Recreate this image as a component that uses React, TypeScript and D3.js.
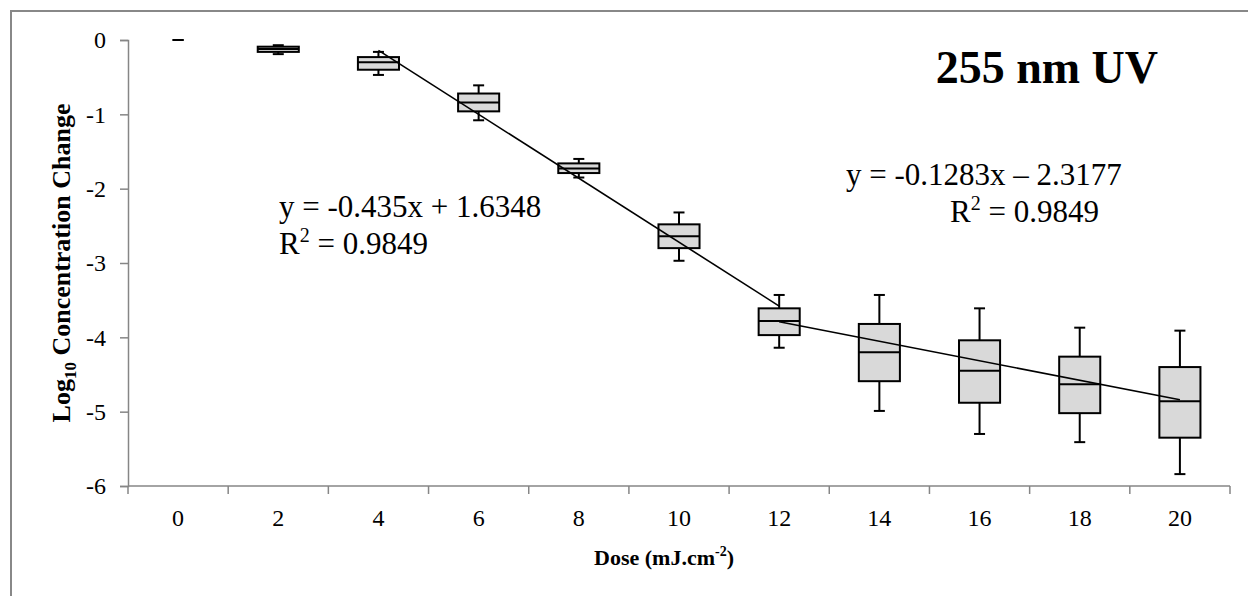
import React, { useEffect, useRef } from "react";
import * as d3 from "d3";

// dose categories (mJ.cm-2)
const doses = [0, 2, 4, 6, 8, 10, 12, 14, 16, 18, 20];
// box plot stats per dose (log10 concentration change)
const whiskerHigh = [0, -0.07, -0.16, -0.61, -1.6, -2.32, -3.43, -3.43, -3.61, -3.87, -3.91];
const q3 = [0, -0.09, -0.23, -0.72, -1.66, -2.48, -3.61, -3.82, -4.04, -4.26, -4.4];
const medians = [0, -0.12, -0.3, -0.84, -1.73, -2.64, -3.78, -4.2, -4.45, -4.63, -4.86];
const q1 = [0, -0.16, -0.4, -0.96, -1.79, -2.8, -3.97, -4.59, -4.88, -5.02, -5.35];
const whiskerLow = [0, -0.19, -0.47, -1.08, -1.85, -2.97, -4.14, -4.99, -5.3, -5.41, -5.84];

const yTicks = [0, -1, -2, -3, -4, -5, -6];

// fitted lines
const fit1Dose = [4, 12];
const fit1Val = [-0.14, -3.58];
const fit2Dose = [12, 20];
const fit2Val = [-3.79, -4.84];

const W = 1248;
const H = 596;
const serif = "'Liberation Serif', 'Times New Roman', serif";
const axisColor = "#868686";

export default function App() {
  const ref = useRef<SVGSVGElement | null>(null);

  useEffect(() => {
    document.body.style.margin = "0";
    const svg = d3.select(ref.current);
    svg.selectAll("*").remove();

    const x = d3.scaleBand<number>().domain(doses).range([128, 1230]).padding(0);
    const y = d3.scaleLinear().domain([-6, 0]).range([486, 40]);
    const bw = x.bandwidth();
    const boxW = bw * 0.41;
    const capW = 11;
    const cx = (d: number) => (x(d) as number) + bw / 2;

    // outer frame
    svg.append("rect").attr("x", 11).attr("y", 11).attr("width", W + 20).attr("height", H + 20)
      .attr("fill", "none").attr("stroke", "#888").attr("stroke-width", 2);

    // y axis
    const yAxis = d3.axisLeft(y).tickValues(yTicks).tickSize(8).tickPadding(14).tickFormat(d3.format("d"));
    const gy = svg.append("g").attr("transform", "translate(128,0)").call(yAxis);
    gy.select(".domain").attr("stroke", axisColor).attr("stroke-width", 1.5);
    gy.selectAll(".tick line").attr("stroke", axisColor).attr("stroke-width", 1.5);
    gy.selectAll(".tick text").attr("font-family", serif).attr("font-size", 24).attr("fill", "#000")
      .text((d: any) => String(d));

    // x axis: ticks at band edges, labels centered
    const edges = doses.map((d) => x(d) as number).concat([x.range()[1]]);
    svg.append("line").attr("x1", 128).attr("x2", 1230).attr("y1", y(-6)).attr("y2", y(-6))
      .attr("stroke", axisColor).attr("stroke-width", 1.5);
    svg.selectAll(".xtick").data(edges).join("line").attr("class", "xtick")
      .attr("x1", (d) => d).attr("x2", (d) => d).attr("y1", y(-6)).attr("y2", y(-6) + 8)
      .attr("stroke", axisColor).attr("stroke-width", 1.5);
    svg.selectAll(".xlabel").data(doses).join("text").attr("class", "xlabel")
      .attr("x", (d) => cx(d)).attr("y", 526).attr("text-anchor", "middle")
      .attr("font-family", serif).attr("font-size", 24).text((d) => d);

    // boxes
    const boxes = doses.map((d, i) => ({
      d, hi: whiskerHigh[i], q3: q3[i], med: medians[i], q1: q1[i], lo: whiskerLow[i],
    }));
    const g = svg.append("g");
    boxes.forEach((b) => {
      const c = cx(b.d);
      g.append("line").attr("x1", c).attr("x2", c).attr("y1", y(b.hi)).attr("y2", y(b.q3))
        .attr("stroke", "#000").attr("stroke-width", 2);
      g.append("line").attr("x1", c).attr("x2", c).attr("y1", y(b.q1)).attr("y2", y(b.lo))
        .attr("stroke", "#000").attr("stroke-width", 2);
      g.append("line").attr("x1", c - capW / 2).attr("x2", c + capW / 2).attr("y1", y(b.hi)).attr("y2", y(b.hi))
        .attr("stroke", "#000").attr("stroke-width", 2);
      g.append("line").attr("x1", c - capW / 2).attr("x2", c + capW / 2).attr("y1", y(b.lo)).attr("y2", y(b.lo))
        .attr("stroke", "#000").attr("stroke-width", 2);
      if (b.q3 > b.q1) {
        g.append("rect").attr("x", c - boxW / 2).attr("y", y(b.q3)).attr("width", boxW)
          .attr("height", y(b.q1) - y(b.q3)).attr("fill", "#d9d9d9").attr("stroke", "#000").attr("stroke-width", 2);
        g.append("line").attr("x1", c - boxW / 2).attr("x2", c + boxW / 2).attr("y1", y(b.med)).attr("y2", y(b.med))
          .attr("stroke", "#000").attr("stroke-width", 2);
      }
    });

    // trend lines
    const line = d3.line<[number, number]>().x((p) => cx(p[0])).y((p) => y(p[1]));
    [[fit1Dose, fit1Val], [fit2Dose, fit2Val]].forEach(([ds, vs]) => {
      svg.append("path").attr("d", line(ds.map((d, i) => [d, vs[i]] as [number, number])))
        .attr("fill", "none").attr("stroke", "#000").attr("stroke-width", 1.6);
    });

    // equation labels
    const eqSize = 31;
    const eq = (xx: number, yy: number, txt: string) =>
      svg.append("text").attr("x", xx).attr("y", yy).attr("font-family", serif).attr("font-size", eqSize).text(txt);
    const r2 = (xx: number, yy: number) => {
      const t = svg.append("text").attr("x", xx).attr("y", yy).attr("font-family", serif).attr("font-size", eqSize);
      t.append("tspan").text("R");
      t.append("tspan").attr("dy", -12).attr("font-size", 20).text("2");
      t.append("tspan").attr("dy", 12).text(" = 0.9849");
    };
    eq(279, 217, "y = -0.435x + 1.6348");
    r2(279, 254);
    eq(846, 185, "y = -0.1283x \u2013 2.3177");
    r2(950, 222);

    // title
    svg.append("text").attr("x", 1158).attr("y", 83).attr("text-anchor", "end")
      .attr("font-family", serif).attr("font-weight", "bold").attr("font-size", 46).text("255 nm UV");

    // axis titles
    const yt = svg.append("text").attr("transform", "translate(70,263) rotate(-90)").attr("text-anchor", "middle")
      .attr("font-family", serif).attr("font-weight", "bold").attr("font-size", 26);
    yt.append("tspan").text("Log");
    yt.append("tspan").attr("dy", 6).attr("font-size", 17).text("10");
    yt.append("tspan").attr("dy", -6).text(" Concentration Change");

    const xt = svg.append("text").attr("x", 664).attr("y", 565).attr("text-anchor", "middle")
      .attr("font-family", serif).attr("font-weight", "bold").attr("font-size", 22);
    xt.append("tspan").text("Dose (mJ.cm");
    xt.append("tspan").attr("dy", -9).attr("font-size", 14).text("-2");
    xt.append("tspan").attr("dy", 9).text(")");
  }, []);

  return <svg ref={ref} width={W} height={H} style={{ display: "block" }} />;
}
